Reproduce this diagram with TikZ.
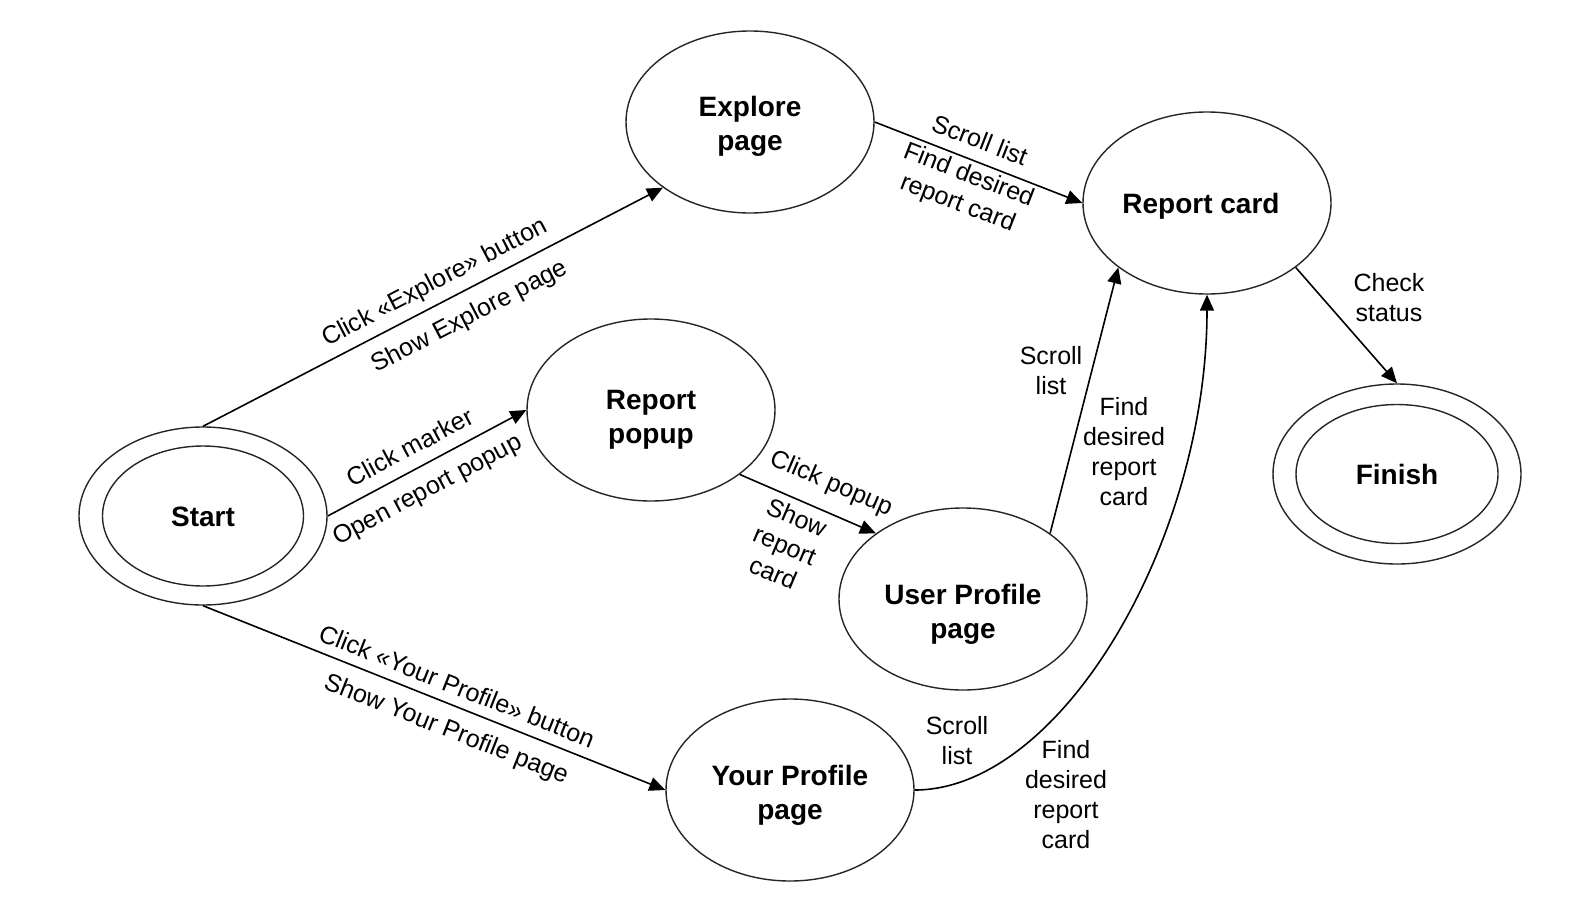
\documentclass[tikz,border=0pt]{standalone}
\usepackage{fontspec}
\setmainfont{Liberation Sans}
\usetikzlibrary{arrows.meta,shapes.geometric}
\begin{document}
\begin{tikzpicture}[x=1pt,y=-1pt,
  state/.style={ellipse,draw=black!85,line width=1.4pt,minimum width=248pt,minimum height=182pt,inner sep=0pt,font=\fontsize{28}{34}\selectfont\bfseries,align=center},
  innerstate/.style={ellipse,draw=black!85,line width=1.4pt,inner sep=0pt,font=\fontsize{28}{34}\selectfont\bfseries,align=center},
  lbl/.style={font=\fontsize{25}{30}\selectfont,align=center,inner sep=0pt},
  conn/.style={line width=1.6pt,-{Triangle[length=16pt,width=14pt]}}]
\useasboundingbox (0,0) rectangle (1571,916);
\fill[white] (0,0) rectangle (1571,916);

\node[state,minimum height=178pt] (start) at (203,516) {};
\node[innerstate,minimum width=201pt,minimum height=140pt] (startin) at (203,516) {\rule{0pt}{22pt}Start};
\node[state] (explore) at (750,122) {\rule{0pt}{28.5pt}Explore\\page};
\node[state] (report) at (1207,203) {\rule{0pt}{26.5pt}Report card\rule{12pt}{0pt}};
\node[state] (popup) at (651,410) {\rule{0pt}{38.5pt}Report\\popup};
\node[state] (user) at (963,599) {\rule{0pt}{50pt}User Profile\\page};
\node[state] (your) at (790,790) {\rule{0pt}{30.5pt}Your Profile\\page};
\node[state,minimum height=180pt] (finish) at (1397,474) {};
\node[innerstate,minimum width=202pt,minimum height=139pt] (finishin) at (1397,474) {Finish};

\draw[conn] (start.north) -- (explore.217);
\draw[conn] (start.east) -- (popup.west);
\draw[conn] (start.south) -- (your.west);
\draw[conn] (explore.east) -- (report.west);
\draw[conn] (popup.-36) -- (user.143);
\draw[conn] (user.37) -- (report.-144);
\draw[conn] (your.east) .. controls +(146,0) and +(0,246) .. (report.south);
\draw[conn] (report.-36) -- (finish.north);

\node[lbl,rotate=27.5] (l1a) at (435,283) {Click «Explore» button};
\node[lbl,rotate=27.5] (l1b) at (470,317) {Show Explore page};
\node[lbl,rotate=28.1] (l2a) at (410,447) {Click marker};
\node[lbl,rotate=28.1] (l2b) at (428,491) {Open report popup};
\node[lbl,rotate=-21.6] (l3a) at (457,686) {Click «Your Profile» button};
\node[lbl,rotate=-21.6] (l3b) at (446,730) {Show Your Profile page};
\node[lbl,rotate=-21.3] (l4a) at (980,140) {Scroll list};
\node[lbl,rotate=-21.3] (l4b) at (963,190) {Find desired\\report card};
\node[lbl,rotate=-23.1] (l5a) at (831,484) {Click popup};
\node[lbl,rotate=-23.1] (l5b) at (785,545) {Show\\report\\card};
\node[lbl] (l6a) at (1051,371) {Scroll\\list};
\node[lbl] (l6b) at (1124,452) {Find\\desired\\report\\card};
\node[lbl] (l7a) at (957,741) {Scroll\\list};
\node[lbl] (l7b) at (1066,795) {Find\\desired\\report\\card};
\node[lbl] (l8) at (1389,298) {Check\\status};
\end{tikzpicture}
\end{document}
